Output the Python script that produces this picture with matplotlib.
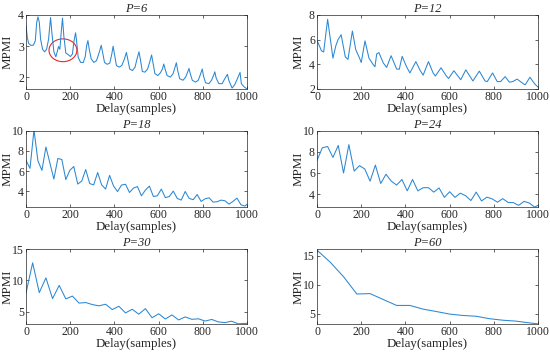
"""Six MPMI-vs-delay panels, one per period P."""

import matplotlib

matplotlib.use("Agg")

import matplotlib.pyplot as plt  # noqa: E402
from matplotlib.patches import Ellipse  # noqa: E402

plt.rcParams["font.family"] = ["Liberation Serif", "DejaVu Serif"]

LINE_COLOR = "#2b87d3"
AXIS_COLOR = "#262626"

# P=6 (dense, key vertices)
delay_p6 = [0, 6, 12, 21, 33, 42, 48, 54, 60, 66, 75, 84, 93, 102, 111, 117, 126,
            135, 141, 147, 153, 159, 165, 171, 180, 189, 201, 210, 216, 224, 228,
            236, 247, 259, 268, 274, 280, 286, 295, 307, 319, 331, 340, 346, 355,
            367, 379, 388, 394, 400, 409, 421, 433, 445, 454, 460, 469, 481, 493,
            502, 511, 517, 526, 538, 550, 559, 568, 574, 583, 596, 608, 617, 623,
            629, 638, 653, 665, 674, 680, 686, 695, 710, 722, 731, 737, 743, 752,
            767, 779, 788, 797, 803, 812, 827, 839, 848, 854, 860, 872, 887, 899,
            911, 917, 932, 944, 956, 968, 974, 986, 998]
mpmi_p6 = [3.66, 3.27, 3.09, 3.03, 3.03, 3.17, 3.75, 3.94, 3.77, 3.22, 2.90, 2.82,
           2.90, 3.22, 3.92, 3.43, 2.82, 2.66, 2.82, 2.99, 2.90, 3.43, 3.90, 3.33,
           2.78, 2.74, 2.67, 2.75, 3.12, 3.43, 3.22, 2.64, 2.48, 2.48, 2.67, 3.01,
           3.18, 2.90, 2.59, 2.48, 2.54, 2.80, 3.03, 2.82, 2.48, 2.42, 2.46, 2.75,
           3.00, 2.75, 2.38, 2.33, 2.38, 2.59, 2.80, 2.59, 2.27, 2.22, 2.33, 2.59,
           2.82, 2.59, 2.19, 2.17, 2.27, 2.48, 2.72, 2.48, 2.12, 2.06, 2.15, 2.27,
           2.43, 2.27, 2.06, 2.01, 2.12, 2.33, 2.47, 2.22, 1.96, 1.91, 2.01, 2.17,
           2.29, 2.12, 1.91, 1.85, 1.91, 2.08, 2.27, 2.04, 1.83, 1.80, 1.91, 2.06,
           2.18, 1.98, 1.80, 1.80, 1.96, 2.10, 1.91, 1.66, 1.77, 1.96, 2.16, 1.80,
           1.70, 1.64]

# P=12
delay_p12 = [0, 20, 30, 48, 72, 85, 95, 109, 128, 140, 160, 175, 190, 200, 217,
             235, 255, 262, 270, 280, 300, 315, 335, 360, 372, 385, 405, 420, 447,
             465, 480, 504, 525, 535, 561, 585, 595, 619, 650, 673, 705, 734, 760,
             770, 794, 815, 830, 851, 870, 885, 905, 935, 942, 963, 985, 1000]
mpmi_p12 = [5.95, 5.10, 5.00, 7.65, 4.50, 5.50, 6.00, 6.40, 4.60, 4.40, 6.70,
            5.20, 4.60, 4.15, 5.90, 4.50, 3.95, 3.80, 4.85, 4.95, 4.10, 3.75,
            4.70, 3.62, 3.60, 4.65, 3.80, 3.30, 4.22, 3.55, 3.12, 4.22, 3.30,
            3.05, 3.72, 3.05, 2.85, 3.48, 2.75, 3.55, 2.65, 3.45, 2.65, 2.60,
            3.30, 2.60, 2.60, 3.00, 2.55, 2.60, 2.80, 2.40, 2.35, 2.95, 2.40,
            2.15]

# P=18
delay_p18 = [0, 18, 36, 54, 72, 90, 126, 144, 162, 180, 198, 216, 234, 252, 270,
             288, 306, 324, 342, 360, 378, 396, 414, 432, 450, 468, 486, 504, 522,
             540, 558, 576, 594, 612, 630, 648, 666, 684, 702, 720, 738, 756, 774,
             792, 810, 828, 846, 864, 882, 900, 918, 936, 954, 972, 990, 1000]
mpmi_p18 = [7.06, 6.27, 10.10, 7.00, 6.07, 8.40, 5.20, 7.25, 7.15, 5.15, 6.07,
            6.45, 4.70, 5.00, 6.15, 4.75, 4.62, 5.85, 4.62, 4.20, 5.57, 4.50,
            3.95, 4.60, 4.68, 3.86, 4.30, 4.45, 3.53, 4.10, 4.50, 3.46, 3.53,
            4.20, 3.35, 3.45, 4.00, 3.27, 3.10, 3.96, 3.27, 3.14, 3.66, 2.97,
            3.23, 3.33, 2.90, 2.94, 3.10, 3.03, 2.70, 2.97, 3.30, 2.64, 2.50,
            2.70]

# P=24
delay_p24 = [0, 24, 48, 72, 96, 120, 144, 168, 192, 216, 240, 264, 288, 312, 336,
             360, 384, 408, 432, 456, 480, 504, 528, 552, 576, 600, 624, 648, 672,
             696, 720, 744, 768, 792, 816, 840, 864, 888, 912, 936, 960, 984, 1000]
mpmi_p24 = [7.20, 8.40, 8.52, 7.48, 8.62, 6.00, 8.70, 6.18, 6.70, 6.38, 5.22,
            6.75, 5.00, 5.88, 5.22, 4.85, 5.38, 4.30, 5.38, 4.30, 4.60, 4.60,
            4.18, 4.58, 3.68, 4.22, 3.68, 4.08, 3.84, 3.38, 4.18, 3.34, 3.70,
            3.54, 3.22, 3.56, 3.20, 3.18, 2.92, 3.30, 3.14, 2.76, 2.92]

# P=30
delay_p30 = [0, 30, 60, 90, 120, 150, 180, 210, 240, 270, 300, 330, 360, 390,
             420, 450, 480, 510, 540, 570, 600, 630, 660, 690, 720, 750, 780, 810,
             840, 870, 900, 930, 960, 990, 1000]
mpmi_p30 = [8.00, 12.80, 8.05, 10.40, 7.10, 9.20, 7.05, 7.50, 6.38, 6.47, 6.15,
            5.95, 6.20, 5.35, 5.88, 4.82, 5.40, 4.62, 5.50, 4.05, 4.68, 3.85,
            4.50, 3.70, 4.18, 3.80, 3.88, 3.52, 3.78, 3.38, 3.28, 3.50, 3.08,
            3.15, 3.15]

# P=60
delay_p60 = [0, 60, 120, 180, 240, 300, 360, 420, 480, 540, 600, 660, 720, 780,
             840, 900, 960, 1000]
mpmi_p60 = [16.00, 13.90, 11.40, 8.40, 8.47, 7.44, 6.42, 6.42, 5.78, 5.36, 4.92,
            4.68, 4.55, 4.12, 3.86, 3.70, 3.40, 3.22]

titles = ["P=6", "P=12", "P=18", "P=24", "P=30", "P=60"]
delays = [delay_p6, delay_p12, delay_p18, delay_p24, delay_p30, delay_p60]
values = [mpmi_p6, mpmi_p12, mpmi_p18, mpmi_p24, mpmi_p30, mpmi_p60]
y_limits = [(1.63, 4.0), (2.0, 8.0), (2.45, 10.0), (2.8, 10.0), (3.05, 15.0), (3.2, 16.2)]
y_ticks = [[2, 3, 4], [2, 4, 6, 8], [4, 6, 8, 10], [4, 6, 8, 10], [5, 10, 15], [5, 10, 15]]
x_ticks = [0, 200, 400, 600, 800, 1000]

# axes boxes in figure fractions (left, bottom, width, height)
LEFT_COL, RIGHT_COL = 0.0473, 0.5764
COL_W = 0.402
ROWS = [(0.7472, 0.2102), (0.4130, 0.2150), (0.0795, 0.2131)]

fig = plt.figure(figsize=(5.5, 3.52), dpi=100)

for i, (title, d, v) in enumerate(zip(titles, delays, values)):
    row, col = divmod(i, 2)
    bottom, height = ROWS[row]
    left = LEFT_COL if col == 0 else RIGHT_COL
    ax = fig.add_axes([left, bottom, COL_W, height])
    ax.plot(d, v, color=LINE_COLOR, linewidth=0.75)
    ax.set_xlim(0, 1000)
    ax.set_ylim(*y_limits[i])
    ax.set_xticks(x_ticks)
    ax.set_yticks(y_ticks[i])
    ax.tick_params(direction="in", length=2.5, width=0.5, labelsize=8.5,
                   top=True, right=True, pad=1.5, colors=AXIS_COLOR)
    for spine in ax.spines.values():
        spine.set_linewidth(0.5)
        spine.set_color(AXIS_COLOR)
    ax.set_xlabel("Delay(samples)", fontsize=9.3, labelpad=0, color=AXIS_COLOR)
    ax.set_ylabel("MPMI", fontsize=9.3, color=AXIS_COLOR)
    # keep the y labels at the same spot in every panel
    ax.yaxis.set_label_coords(-0.058, 0.5)
    ax.set_title(title, fontsize=9, fontstyle="italic", pad=2, color=AXIS_COLOR)

    if i == 0:
        # highlight region on the P=6 panel
        ax.add_patch(Ellipse((167, 2.87), 126, 0.73, fill=False,
                             edgecolor="#e8282b", linewidth=0.8))

fig.savefig("out.png", dpi=100)
plt.close(fig)
